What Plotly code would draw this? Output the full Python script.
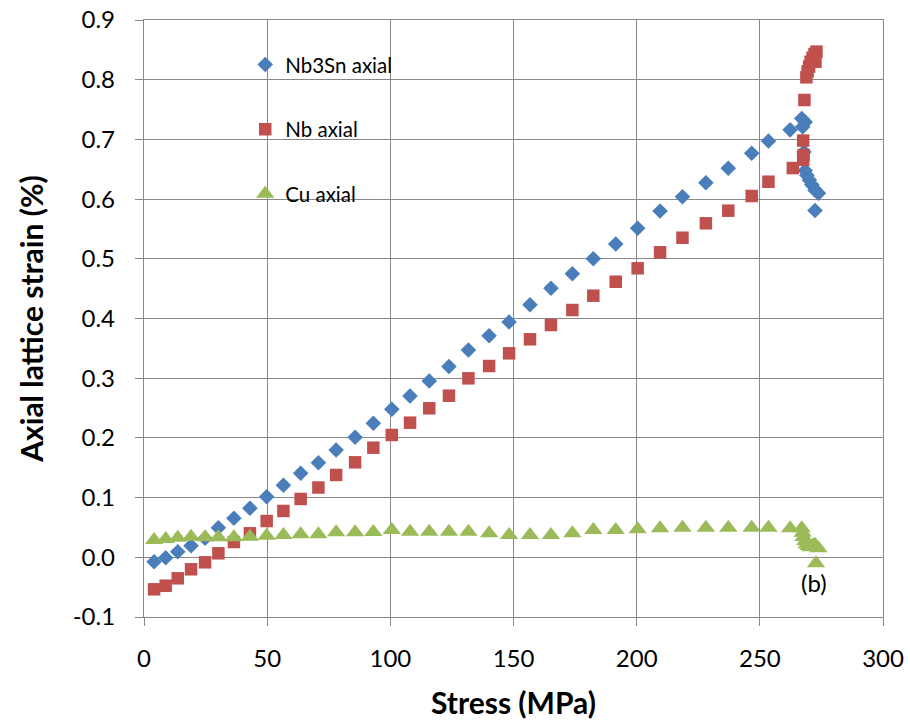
import plotly.graph_objects as go

# Applied stress (MPa) for the loading sequence
stress = [4.1, 8.8, 13.7, 19.1, 24.8, 30.2, 36.5, 43.0, 49.8, 56.6,
          63.6, 70.8, 78.0, 85.7, 93.1, 100.6, 108.0, 115.8, 123.8, 131.7,
          140.1, 148.2, 156.7, 165.2, 173.9, 182.4, 191.5, 200.4, 209.5, 218.6,
          228.1, 237.2, 246.7, 253.5]

# Axial lattice strain (%) for each phase
nb3sn_strain = [-0.0074, -0.0007, 0.0094, 0.0194, 0.0318, 0.0496, 0.0653, 0.0821, 0.1015, 0.1206,
                0.1407, 0.1585, 0.1797, 0.2010, 0.2245, 0.2479, 0.2702, 0.2953, 0.3196, 0.3472,
                0.3712, 0.3941, 0.4231, 0.4506, 0.4750, 0.5002, 0.5248, 0.5511, 0.5801, 0.6040,
                0.6275, 0.6516, 0.6767, 0.6973]
nb_strain = [-0.0536, -0.0476, -0.0352, -0.0201, -0.0084, 0.0067, 0.0256, 0.0402, 0.0608, 0.0776,
             0.0977, 0.1169, 0.1379, 0.1591, 0.1836, 0.2049, 0.2255, 0.2496, 0.2707, 0.2998,
             0.3204, 0.3417, 0.3652, 0.3891, 0.4142, 0.4382, 0.4616, 0.4841, 0.5109, 0.5353,
             0.5595, 0.5806, 0.6052, 0.6291]
cu_strain = [0.0290, 0.0307, 0.0328, 0.0345, 0.0335, 0.0335, 0.0335, 0.0345, 0.0362, 0.0374,
             0.0385, 0.0385, 0.0419, 0.0419, 0.0424, 0.0457, 0.0429, 0.0429, 0.0429, 0.0429,
             0.0402, 0.0374, 0.0374, 0.0374, 0.0402, 0.0457, 0.0457, 0.0469, 0.0486, 0.0496,
             0.0496, 0.0496, 0.0496, 0.0496]

# Points recorded close to failure
nb3sn_stress_hi = [262.3, 267.0, 268.4, 267.4, 267.9, 268.4, 269.1, 270.1, 271.1, 272.4, 273.8, 272.4]
nb3sn_strain_hi = [0.716, 0.735, 0.729, 0.721, 0.679, 0.648, 0.640, 0.632, 0.624, 0.615, 0.610, 0.581]
nb_stress_hi = [263.4, 267.6, 267.8, 267.6, 268.1, 268.9, 269.4, 270.0, 270.6, 271.4, 272.2, 273.0, 272.6]
nb_strain_hi = [0.652, 0.666, 0.674, 0.698, 0.766, 0.804, 0.814, 0.822, 0.830, 0.837, 0.843, 0.847, 0.830]
cu_stress_hi = [262.3, 267.0, 267.4, 267.7, 268.4, 269.1, 269.8, 270.6, 271.6, 272.4, 273.8, 272.8]
cu_strain_hi = [0.0486, 0.0486, 0.041, 0.034, 0.027, 0.022, 0.019, 0.017, 0.020, 0.021, 0.015, -0.010]

y_ticks = [-0.1, 0.0, 0.1, 0.2, 0.3, 0.4, 0.5, 0.6, 0.7, 0.8, 0.9]
y_tick_labels = ["-0.1", "0.0", "0.1", "0.2", "0.3", "0.4", "0.5", "0.6", "0.7", "0.8", "0.9"]
x_ticks = [0, 50, 100, 150, 200, 250, 300]

FONT = "Lato"
GRID = "#878787"

fig = go.Figure()

series = [
    ("Nb3Sn axial", stress + nb3sn_stress_hi, nb3sn_strain + nb3sn_strain_hi, "diamond", "#4A7EBB", 12),
    ("Nb axial", stress + nb_stress_hi, nb_strain + nb_strain_hi, "square", "#C0504D", 12.5),
    ("Cu axial", stress + cu_stress_hi, cu_strain + cu_strain_hi, "triangle-up", "#9BBB59", 16),
]
for i, (name, xs, ys, sym, col, size) in enumerate(series):
    fig.add_trace(go.Scatter(
        x=xs, y=ys, mode="markers", name=name, legendgroup=f"g{i}",
        marker=dict(symbol=sym, color=col, size=size, line=dict(width=0)),
    ))

# white panel behind the legend, drawn above the grid
fig.add_shape(type="rect", xref="paper", yref="paper",
              x0=0.0433, x1=0.445, y0=0.66, y1=0.9765,
              fillcolor="white", line=dict(width=0), layer="between")

fig.add_annotation(x=272, y=-0.043, text="(b)", showarrow=False,
                   font=dict(family=FONT, size=24, color="black"))

axis_common = dict(
    showgrid=True, gridcolor=GRID, gridwidth=1.3,
    showline=True, linecolor=GRID, linewidth=1.3, mirror=True,
    ticks="outside", ticklen=8, tickcolor=GRID, tickwidth=1.3,
    zeroline=False, automargin=False,
    tickfont=dict(family=FONT, size=24, color="black"),
)

fig.update_xaxes(range=[0, 300], tickvals=x_ticks, ticklabelstandoff=12,
                 title=dict(text="<b>Stress (MPa)</b>", font=dict(family=FONT, size=30, color="black"), standoff=22),
                 **axis_common)
fig.update_yaxes(range=[-0.1, 0.9], tickvals=y_ticks, ticktext=y_tick_labels, ticklabelstandoff=15,
                 title=dict(text="<b>Axial lattice strain (%)</b>", font=dict(family=FONT, size=30, color="black"), standoff=20),
                 **axis_common)

fig.update_layout(
    width=910, height=721,
    margin=dict(l=144, r=27, t=20, b=104),
    paper_bgcolor="white", plot_bgcolor="white",
    font=dict(family=FONT, color="black"),
    legend=dict(x=0.137, y=0.9586, xanchor="left", yanchor="top",
                bgcolor="rgba(0,0,0,0)", font=dict(family=FONT, size=20.5, color="black"),
                tracegroupgap=35, itemwidth=30),
)

fig.write_html("out.html")
